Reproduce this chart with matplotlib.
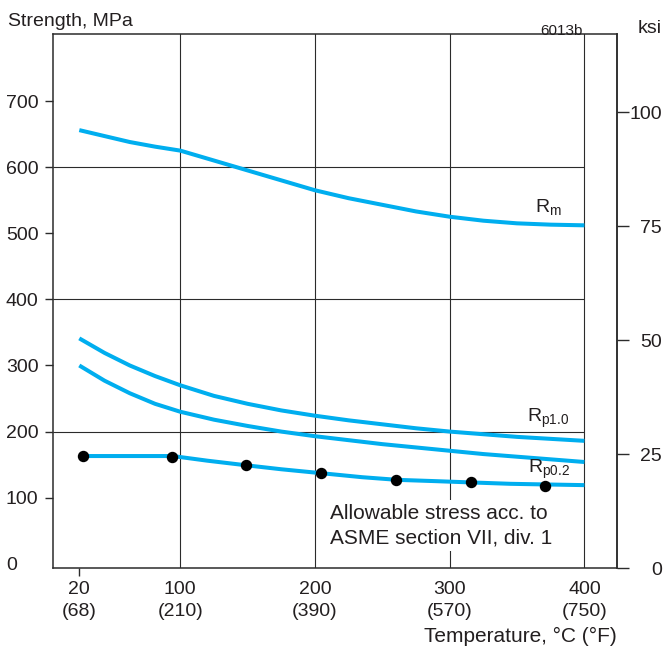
import numpy as np
import matplotlib
matplotlib.use('Agg')
import matplotlib.pyplot as plt

# ---------------- data ----------------
temp_curves = [20, 40, 60, 80, 100, 125, 150, 175, 200, 225, 250, 275, 300, 325, 350, 375, 400]
rm = [656, 647, 638, 631, 625, 610, 595, 580, 565, 553, 543, 533, 525, 519, 515, 513, 512]
rp10 = [341, 319, 300, 284, 270, 254, 242, 232, 224, 217, 211, 205, 200, 196, 192, 189, 186]
rp02 = [300, 277, 258, 242, 230, 218, 208.5, 200, 193, 187, 181, 176, 171, 166, 162, 158, 154]

temp_allow_line = [23, 94, 120, 149, 175, 205, 235, 261, 290, 317, 345, 372, 400]
allow_line = [163, 163, 156, 149, 143, 137, 131, 127, 125, 123, 121, 120, 119]
temp_allow_pts = [23, 93.3, 148.9, 204.4, 260, 315.6, 371.1]
allow_pts = [163, 162, 149, 137, 127, 123, 118]

x_ticks = [20, 100, 200, 300, 400]
x_ticklabels = ['20\n(68)', '100\n(210)', '200\n(390)', '300\n(570)', '400\n(750)']
y_ticks = [0, 100, 200, 300, 400, 500, 600, 700]
ksi_ticks = [0, 25, 50, 75, 100]
v_grid = [100, 200, 300, 400]
h_grid = [200, 400, 600]

BLUE = '#00AEEF'
TXT = '#231F20'
LINE = '#2b2b2b'

plt.rcParams['font.family'] = ['Liberation Sans', 'DejaVu Sans']
plt.rcParams['mathtext.default'] = 'regular'
plt.rcParams['font.size'] = 14

fig = plt.figure(figsize=(6.66, 6.52), dpi=100)
ax = fig.add_axes([52.7 / 666, (652 - 568.3) / 652, (617 - 52.7) / 666, (568.3 - 34) / 652])


def fwd(t):
    t = np.asarray(t, dtype=float)
    return np.where(t >= 100, t, 100 - (100 - t) * 0.9375)


def inv(u):
    u = np.asarray(u, dtype=float)
    return np.where(u >= 100, u, 100 - (100 - u) / 0.9375)


ax.set_xscale('function', functions=(fwd, inv))
ax.set_xlim(-1.05, 424.2)
ax.set_ylim(-6.8, 801.4)

# grid
for g in v_grid:
    ax.axvline(g, color=LINE, lw=0.8, zorder=1)
ax.hlines(h_grid, xmin=-1.05, xmax=400, color=LINE, lw=0.8, zorder=1)

# curves
for vals in (rm, rp10, rp02):
    ax.plot(temp_curves, vals, color=BLUE, lw=2.9, zorder=3,
            solid_capstyle='butt', solid_joinstyle='round')
ax.plot(temp_allow_line, allow_line, color=BLUE, lw=2.9, zorder=3,
        solid_capstyle='butt', solid_joinstyle='round')
ax.plot(temp_allow_pts, allow_pts, 'o', color='black', ms=7.2, zorder=4)

# labels on curves
ax.text(363.4, 532, r'R$_{m}$', color=TXT, fontsize=14, ha='left', va='baseline', zorder=5)
ax.text(357.4, 214.5, r'R$_{p1.0}$', color=TXT, fontsize=14, ha='left', va='baseline', zorder=5)
ax.text(358.2, 137.4, r'R$_{p0.2}$', color=TXT, fontsize=14, ha='left', va='baseline', zorder=5)

ax.text(211.2, 57.5, 'Allowable stress acc. to\nASME section VII, div. 1', color=TXT,
        fontsize=15, ha='left', va='center', linespacing=1.33, zorder=2,
        bbox=dict(facecolor='white', edgecolor='none', pad=3))

# spines
for s in ax.spines.values():
    s.set_linewidth(1.1)
    s.set_color(LINE)

# x ticks
ax.set_xticks(x_ticks)
ax.set_xticklabels(x_ticklabels, color=TXT, fontsize=14, linespacing=1.43)
ax.xaxis.set_minor_locator(matplotlib.ticker.NullLocator())
ax.tick_params(axis='x', direction='out', length=5.8, width=1.0, color=LINE, pad=3)
for t in ax.xaxis.get_major_ticks()[1:]:
    t.tick1line.set_visible(False)

# y ticks
ax.set_yticks(y_ticks)
ax.set_yticklabels([str(v) for v in y_ticks], color=TXT, fontsize=14)
ax.tick_params(axis='y', direction='out', length=5.8, width=1.0, color=LINE, pad=27.9)
for lab in ax.get_yticklabels():
    lab.set_horizontalalignment('left')
ax.yaxis.get_major_ticks()[0].tick1line.set_visible(False)

# ksi axis
sec = ax.secondary_yaxis('right', functions=(lambda m: (m + 6.8) / 6.895,
                                              lambda k: k * 6.895 - 6.8))
sec.set_yticks(ksi_ticks)
sec.set_yticklabels([str(v) for v in ksi_ticks], color=TXT, fontsize=14)
sec.tick_params(axis='y', direction='out', length=8.6, width=1.0, color=LINE, pad=23.8)
for lab in sec.get_yticklabels():
    lab.set_horizontalalignment('right')
sec.spines['right'].set_linewidth(1.1)
sec.spines['right'].set_color(LINE)

# axis titles and annotations
ax.set_xlabel('Temperature, °C (°F)', color=TXT, fontsize=15)
ax.xaxis.set_label_coords(1.0, -(636 - 568.3) / 534.3)
ax.xaxis.label.set_horizontalalignment('right')
ax.xaxis.label.set_verticalalignment('center')

fig.text(8 / 666, (652 - 26) / 652, 'Strength, MPa', color=TXT, fontsize=14, ha='left', va='baseline')
fig.text(638 / 666, (652 - 33) / 652, 'ksi', color=TXT, fontsize=14, ha='left', va='baseline')
fig.text(583 / 666, (652 - 35) / 652, '6013b', color=TXT, fontsize=11, ha='right', va='baseline')

fig.savefig('out.png', dpi=100)
